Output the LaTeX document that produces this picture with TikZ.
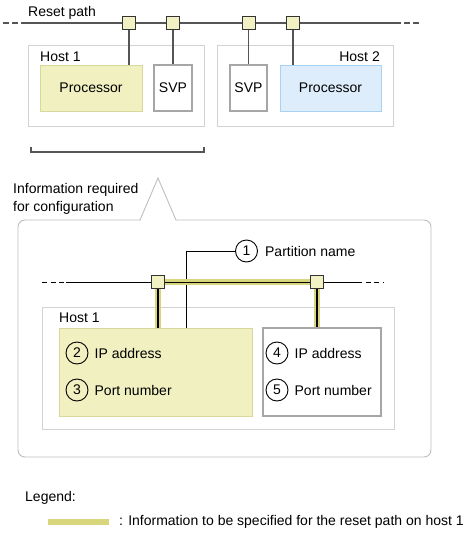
\documentclass[tikz,border=0pt]{standalone}
\usepackage{fontspec}
\setmainfont{Liberation Sans}
\usetikzlibrary{positioning}

\definecolor{procyellow}{HTML}{F1F0C0}
\definecolor{yellowline}{HTML}{D8D89C}
\definecolor{procblue}{HTML}{DDEDFC}
\definecolor{blueline}{HTML}{A9D1F2}
\definecolor{hostline}{HTML}{D2D2D2}
\definecolor{svpline}{HTML}{A6A6A6}
\definecolor{portfill}{HTML}{F2F1C4}
\definecolor{wire}{HTML}{555555}
\definecolor{hilite}{HTML}{D7D67C}
\definecolor{callline}{HTML}{BDBDBD}

\begin{document}
\begin{tikzpicture}[x=1pt,y=-1pt,font=\fontsize{14}{16}\selectfont]
\tikzstyle{every node}=[inner sep=0pt];
\tikzstyle{host}=[draw=hostline,line width=0.9pt];
\tikzstyle{proc}=[fill=procyellow,draw=yellowline,line width=0.9pt];
\tikzstyle{svp}=[fill=white,draw=svpline,line width=1.1pt];
\tikzstyle{port}=[draw=black!80,fill=portfill,line width=0.9pt,minimum size=13pt];
\tikzstyle{wirestyle}=[draw=wire,line width=1.4pt];
\tikzstyle{num}=[draw,circle,line width=0.9pt,minimum size=22pt];
\tikzstyle{txt}=[text height=10pt,text depth=0pt];
\useasboundingbox (0,0) rectangle (469,533);

% reset path with both hosts
\node[anchor=base west] (resettext) at (28,16.5) {Reset path};
\coordinate (r0) at (3,23);
\coordinate (r1) at (27,23);
\coordinate (r2) at (395,23);
\coordinate (r3) at (420,23);
\draw[wirestyle,dash pattern=on 6pt off 3pt] (r0) -- (r1);
\draw[wirestyle] (r1) -- (r2);
\draw[wirestyle,dash pattern=on 6pt off 3pt] (r2) -- (r3);

\node[host,minimum width=176pt,minimum height=81pt] (hostA) at (116,85.5) {};
\node[host,minimum width=176pt,minimum height=81pt] (hostB) at (305,85.5) {};
\node[anchor=base west] (hostAtext) at (40,61) {Host 1};
\node[anchor=base east] (hostBtext) at (380,61) {Host 2};
\node[proc,minimum width=102pt,minimum height=46pt] (procA) at (91,88) {Processor};
\node[svp,minimum width=38pt,minimum height=46pt] (svpA) at (173,88) {SVP};
\node[svp,minimum width=37pt,minimum height=46pt] (svpB) at (248.5,88) {SVP};
\node[proc,fill=procblue,draw=blueline,minimum width=101pt,minimum height=46pt] (procB) at (330.5,88) {Processor};

\node[port] (pA) at (129,23) {};
\node[port] (pB) at (173,23) {};
\node[port] (pC) at (248.5,23) {};
\node[port] (pD) at (293,23) {};
\draw[wirestyle] (pA) -- (pA |- procA.north);
\draw[wirestyle] (pB) -- (svpA.north);
\draw[wirestyle] (pC) -- (svpB.north);
\draw[wirestyle] (pD) -- (pD |- procB.north);

\draw[wirestyle] (31,147) -- (31,152) -- (204,152) -- (204,147);

% callout
\draw[callline,line width=0.9pt,rounded corners=7pt] (18,220) rectangle (431,457);
\fill[white] (140.5,218) rectangle (175.5,222);
\draw[callline,line width=0.9pt] (140,220) -- (158,178) -- (176,220);
\node[anchor=base west] (infoA) at (13,193.3) {Information required};
\node[anchor=base west] (infoB) at (13,211) {for configuration};

\node[host,minimum width=352pt,minimum height=122pt] (hostC) at (218,368) {};
\node[anchor=base west] (hostCtext) at (59,322) {Host 1};
\node[proc,minimum width=193pt,minimum height=88pt] (yel) at (155.5,372) {};
\node[svp,minimum width=118pt,minimum height=88pt] (wht) at (322,372) {};

\node[num] (n1) at (246.5,251) {1};
\node[txt,right=7pt of n1] (n1text) {Partition name};
\coordinate (lead) at (186,328);
\draw[line width=0.9pt] (n1.west) -| (lead);

\coordinate (s0) at (42,282);
\coordinate (s1) at (66,282);
\coordinate (s2) at (357,282);
\coordinate (s3) at (383,282);
\node[port] (qA) at (158,282) {};
\node[port] (qB) at (317,282) {};
\draw[hilite,line width=6pt] (qA) -- (qA |- yel.north);
\draw[hilite,line width=6pt] (qA) -- (qB);
\draw[hilite,line width=6pt] (qB) -- (qB |- wht.north);
\draw[line width=0.9pt,dash pattern=on 5pt off 3.5pt] (s0) -- (s1);
\draw[line width=0.9pt] (s1) -- (s2);
\draw[line width=0.9pt,dash pattern=on 5pt off 3.5pt] (s2) -- (s3);
\draw[line width=1.2pt] (qA) -- (qA |- yel.north);
\draw[line width=1.2pt] (qB) -- (qB |- wht.north);
\node[port] at (qA) {};
\node[port] at (qB) {};

\node[num] (n2) at (77,353) {2};
\node[txt,right=6pt of n2] (n2text) {IP address};
\node[num] (n3) at (77,390) {3};
\node[txt,right=6pt of n3] (n3text) {Port number};
\node[num] (n4) at (277,353) {4};
\node[txt,right=6pt of n4] (n4text) {IP address};
\node[num] (n5) at (277,390) {5};
\node[txt,right=6pt of n5] (n5text) {Port number};

% legend
\node[anchor=base west] (legend) at (25,501) {Legend:};
\coordinate (barA) at (48,522);
\coordinate (barB) at (109,522);
\draw[hilite,line width=6pt] (barA) -- (barB);
\node[anchor=base west] (legendtext) at (119,525.7) {: Information to be specified for the reset path on host 1};
\end{tikzpicture}
\end{document}
